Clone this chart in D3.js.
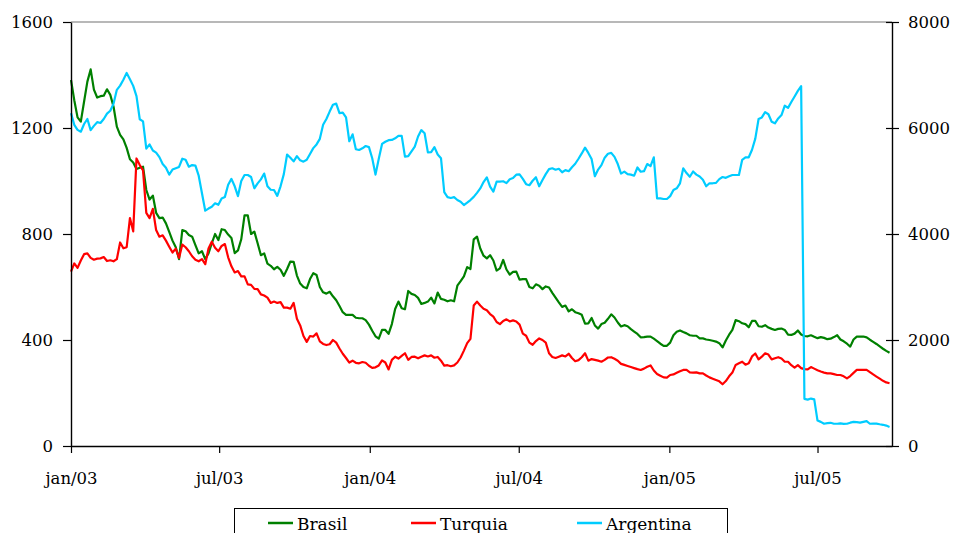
<!DOCTYPE html>
<html>
<head>
<meta charset="utf-8">
<script src="https://cdn.jsdelivr.net/npm/d3@7"></script>
<style>
  body { margin: 0; background: #fff; }
  svg { display: block; }
  text { font-family: "DejaVu Serif", serif; fill: #000; }
</style>
</head>
<body>
<svg id="chart" width="962" height="533"></svg>
<script>
// Spread series, sampled every 4 days from 1 Jan 2003
const startDate = new Date(2003, 0, 1);
const endDate = new Date(2005, 8, 30);
const stepDays = 4;

const seriesNames = ["Brasil", "Turquia", "Argentina"];
const seriesColors = ["#008000", "#ff0000", "#00ccff"];

// Brasil and Turquia: left axis
const brasil = [
  1381,1305,1240,1224,1300,1375,1421,1345,1315,1320,
  1322,1346,1325,1280,1205,1174,1157,1125,1082,1070,
  1045,1050,1054,966,930,945,880,860,862,840,
  808,775,750,705,815,810,796,790,758,727,
  735,705,727,765,800,777,818,815,798,785,
  728,738,780,870,870,800,809,765,720,727,
  688,680,667,676,665,642,668,696,695,643,
  613,600,595,630,652,645,600,580,575,582,
  565,550,528,505,495,495,495,484,482,482,
  475,458,435,414,405,438,438,423,460,517,
  545,520,516,585,574,570,559,536,540,545,
  560,538,579,555,552,546,550,546,605,622,
  640,675,668,780,790,745,718,708,720,700,
  662,670,702,666,647,657,658,628,630,630,
  600,595,610,605,592,602,598,578,560,542,
  525,530,508,516,505,501,495,462,463,483,
  455,443,460,465,480,497,485,466,451,456,
  452,441,432,423,410,411,413,413,405,396,
  386,378,378,390,418,431,436,430,425,418,
  416,416,406,406,402,400,397,394,388,372,
  398,420,438,475,471,463,460,448,472,472,
  452,450,456,447,442,438,442,443,438,420,
  419,424,436,421,415,414,418,412,407,411,
  408,403,405,411,418,402,395,386,375,402,
  413,413,413,410,401,393,385,376,367,359,
  352
];

const turquia = [
  658,689,672,700,724,727,710,703,707,708,
  713,698,701,697,705,768,746,750,860,810,
  1085,1060,1040,880,860,895,815,790,795,775,
  752,730,745,710,760,750,735,716,703,697,
  705,686,745,771,748,735,755,762,712,678,
  655,660,640,640,610,608,593,592,572,568,
  560,540,545,540,543,522,522,518,540,480,
  455,415,393,415,413,425,395,385,381,384,
  400,390,368,348,332,315,322,314,312,317,
  314,303,295,297,304,323,315,289,325,337,
  330,340,350,325,336,337,331,337,342,338,
  342,333,336,322,303,305,301,304,315,334,
  360,388,404,530,545,530,518,512,498,488,
  468,460,472,478,470,474,470,458,424,416,
  390,382,396,406,400,390,350,336,332,337,
  342,338,348,332,320,324,335,350,322,328,
  325,322,318,325,334,335,329,322,310,306,
  302,298,294,290,287,292,299,304,285,272,
  265,259,258,268,270,276,282,287,287,278,
  277,278,274,274,266,259,254,249,244,233,
  245,263,277,306,312,318,307,312,338,349,
  327,337,350,345,327,331,335,330,318,318,
  305,296,305,294,290,289,298,292,286,281,
  277,274,274,271,268,268,263,255,264,276,
  287,287,287,287,279,270,262,254,246,240,
  237
];

// Argentina: right axis
const argentina = [
  6280,6060,5965,5930,6075,6170,5960,6040,6110,6095,
  6170,6270,6325,6460,6720,6800,6910,7040,6920,6795,
  6600,6165,6125,5610,5690,5575,5535,5450,5320,5250,
  5120,5215,5240,5265,5420,5400,5270,5300,5290,5100,
  4770,4440,4480,4515,4580,4550,4670,4700,4930,5040,
  4900,4715,5000,5113,5113,5075,4862,4955,5030,5140,
  4900,4835,4830,4720,4900,5130,5500,5440,5370,5470,
  5390,5365,5400,5510,5620,5690,5795,6060,6170,6310,
  6440,6460,6280,6290,6200,5750,5880,5600,5585,5617,
  5660,5640,5430,5120,5420,5700,5740,5770,5775,5805,
  5850,5850,5460,5470,5560,5650,5840,5960,5900,5540,
  5545,5640,5500,5430,4790,4695,4680,4695,4642,4610,
  4545,4590,4640,4700,4775,4860,4980,5070,4893,4800,
  4987,4990,4995,4960,5032,5055,5120,5125,5040,4940,
  4920,5005,5070,4900,5020,5130,5225,5240,5212,5230,
  5165,5205,5185,5260,5325,5420,5520,5630,5530,5415,
  5090,5215,5300,5440,5515,5530,5455,5320,5140,5176,
  5130,5120,5100,5255,5175,5185,5320,5280,5447,4673,
  4673,4660,4660,4715,4830,4862,4957,5240,5150,5080,
  5180,5120,5085,5025,4900,4957,4957,4965,5035,5075,
  5060,5090,5113,5113,5113,5400,5447,5447,5590,5800,
  6170,6200,6300,6260,6119,6088,6180,6245,6420,6380,
  6490,6595,6700,6790,890,875,895,880,480,455,
  420,430,438,420,420,428,418,420,440,455,
  450,440,455,470,420,425,422,410,400,385,
  360
];

const leftTicks = [0, 400, 800, 1200, 1600];
const rightTicks = [0, 2000, 4000, 6000, 8000];
const monthTicks = ["2003-01-01", "2003-07-01", "2004-01-01", "2004-07-01", "2005-01-01", "2005-07-01"];
const monthAbbr = ["jan", "fev", "mar", "abr", "mai", "jun", "jul", "ago", "set", "out", "nov", "dez"];

const svg = d3.select("#chart");
const plot = { left: 71, right: 892, top: 22, bottom: 446 };

const x = d3.scaleTime().domain([startDate, endDate]).range([plot.left, plot.right]);
const yLeft = d3.scaleLinear().domain([0, 1600]).range([plot.bottom, plot.top]);
const yRight = d3.scaleLinear().domain([0, 8000]).range([plot.bottom, plot.top]);

const dateAt = i => d3.timeDay.offset(startDate, i * stepDays);
const parseDay = d3.timeParse("%Y-%m-%d");

// top frame line
svg.append("line")
  .attr("x1", plot.left).attr("x2", plot.right)
  .attr("y1", plot.top).attr("y2", plot.top)
  .attr("stroke", "#a0a0a0").attr("stroke-width", 1.5);

// series
const series = [
  { values: brasil, y: yLeft, color: seriesColors[0] },
  { values: turquia, y: yLeft, color: seriesColors[1] },
  { values: argentina, y: yRight, color: seriesColors[2] }
];
series.forEach(s => {
  const line = d3.line()
    .x((d, i) => x(dateAt(i)))
    .y(d => s.y(d));
  svg.append("path")
    .datum(s.values)
    .attr("d", line)
    .attr("fill", "none")
    .attr("stroke", s.color)
    .attr("stroke-width", 2.2)
    .attr("stroke-linejoin", "round");
});

// axes
const fontSize = 16.5;
const styleAxis = g => {
  g.selectAll("path.domain").attr("stroke", "#000").attr("stroke-width", 1.4);
  g.selectAll(".tick line").attr("stroke", "#000").attr("stroke-width", 1.2);
  g.selectAll(".tick text")
    .attr("font-family", "DejaVu Serif, serif")
    .attr("font-size", fontSize)
    .attr("fill", "#000");
};

svg.append("g")
  .attr("transform", `translate(${plot.left},0)`)
  .call(d3.axisLeft(yLeft).tickValues(leftTicks).tickSize(8).tickSizeOuter(0).tickPadding(10).tickFormat(d3.format("d")))
  .call(styleAxis);

const rightAxis = svg.append("g")
  .attr("transform", `translate(${plot.right},0)`)
  .call(d3.axisRight(yRight).tickValues(rightTicks).tickSize(7).tickSizeOuter(0).tickPadding(9).tickFormat(d3.format("d")))
  .call(styleAxis);
rightAxis.selectAll(".tick line").attr("x1", -6);

svg.append("g")
  .attr("transform", `translate(0,${plot.bottom})`)
  .call(d3.axisBottom(x)
    .tickValues(monthTicks.map(parseDay))
    .tickSize(7).tickSizeOuter(0).tickPadding(19)
    .tickFormat(d => `${monthAbbr[d.getMonth()]}/${d3.timeFormat("%y")(d)}`))
  .call(styleAxis);

// legend
const legend = svg.append("g");
legend.append("rect")
  .attr("x", 234.5).attr("y", 508.5)
  .attr("width", 493).attr("height", 40)
  .attr("fill", "#fff").attr("stroke", "#000").attr("stroke-width", 1);
const legendX = [268, 411, 577];
seriesNames.forEach((name, i) => {
  legend.append("line")
    .attr("x1", legendX[i]).attr("x2", legendX[i] + 25)
    .attr("y1", 523).attr("y2", 523)
    .attr("stroke", seriesColors[i]).attr("stroke-width", 2.5);
  legend.append("text")
    .attr("x", legendX[i] + 29).attr("y", 530)
    .attr("font-size", 17)
    .text(name);
});
</script>
</body>
</html>
